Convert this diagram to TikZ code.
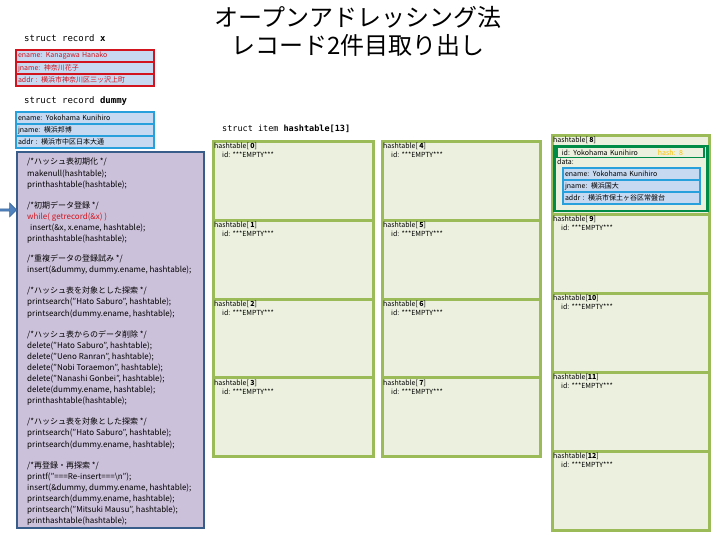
\documentclass[tikz,border=0pt]{standalone}
\usepackage{fontspec}
\setmainfont{Noto Sans CJK JP}
\setmonofont{DejaVu Sans Mono}
\usetikzlibrary{shapes.arrows}
\definecolor{CellGreen}{RGB}{155,187,89}
\definecolor{CellFill}{RGB}{235,241,222}
\definecolor{RowFill}{RGB}{198,217,241}
\definecolor{RecRed}{RGB}{210,20,30}
\definecolor{RecBlue}{RGB}{40,160,220}
\definecolor{CodeFill}{RGB}{204,193,218}
\definecolor{CodeLine}{RGB}{56,93,138}
\definecolor{DataGreen}{RGB}{0,140,70}
\definecolor{HashOrange}{RGB}{255,192,0}
\definecolor{ArrowBlue}{RGB}{79,129,189}

\tikzset{
  cellbox/.style={draw=CellGreen, fill=CellFill, line width=3pt, anchor=north west, inner sep=0pt},
  celltext/.style={anchor=north west, inner sep=0pt, align=left, font=\fontsize{7}{9}\selectfont},
  rowbox/.style={fill=RowFill, line width=2pt, anchor=north west, inner sep=2pt,
    minimum height=12pt, align=left, font=\fontsize{7}{8}\selectfont},
  structlabel/.style={anchor=west, inner sep=0pt, font=\ttfamily\fontsize{9}{10}\selectfont},
}

\begin{document}
\begin{tikzpicture}[x=1pt,y=-1pt]
  \useasboundingbox (0,0) rectangle (720,540);

  % title
  \node[align=center, font=\fontsize{24}{28}\selectfont] (title) at (358,31)
    {オープンアドレッシング法\\レコード2件目取り出し};

  % struct record x
  \node[structlabel] (xlabel) at (24,38) {struct record \textbf{x}};
  \node[rowbox, draw=RecRed, text=RecRed, text width=134pt] (xe) at (15,49) {ename: Kanagawa Hanako};
  \node[rowbox, draw=RecRed, text=RecRed, text width=134pt] (xj) at (15,61) {jname: 神奈川花子};
  \node[rowbox, draw=RecRed, text=RecRed, text width=134pt] (xa) at (15,73) {addr : 横浜市神奈川区三ッ沢上町};

  % struct record dummy
  \node[structlabel] (dlabel) at (24,101) {struct record \textbf{dummy}};
  \node[rowbox, draw=RecBlue, text width=134pt] (de) at (15,111) {ename: Yokohama Kunihiro};
  \node[rowbox, draw=RecBlue, text width=134pt] (dj) at (15,123) {jname: 横浜邦博};
  \node[rowbox, draw=RecBlue, text width=134pt] (da) at (15,135) {addr : 横浜市中区日本大通};

  % main program
  \node[draw=CodeLine, fill=CodeFill, line width=2pt, anchor=north west, inner sep=0pt,
    minimum width=187pt, minimum height=376pt] (codebg) at (16,151) {};
  \node[anchor=north west, inner sep=0pt, align=left, font=\fontsize{8}{11.1}\selectfont] (code) at (27,158) {%
    /*ハッシュ表初期化 */\\
    makenull(hashtable);\\
    printhashtable(hashtable);\\[10pt]
    /*初期データ登録 */\\
    \textcolor{RecRed}{while( getrecord(\&x) )}\\
    \hspace{3pt}insert(\&x, x.ename, hashtable);\\
    printhashtable(hashtable);\\[9pt]
    /*重複データの登録試み */\\
    insert(\&dummy, dummy.ename, hashtable);\\[10pt]
    /*ハッシュ表を対象とした探索 */\\
    printsearch("Hato Saburo", hashtable);\\
    printsearch(dummy.ename, hashtable);\\[10pt]
    /*ハッシュ表からのデータ削除 */\\
    delete("Hato Saburo", hashtable);\\
    delete("Ueno Ranran", hashtable);\\
    delete("Nobi Toraemon", hashtable);\\
    delete("Nanashi Gonbei", hashtable);\\
    delete(dummy.ename, hashtable);\\
    printhashtable(hashtable);\\[10pt]
    /*ハッシュ表を対象とした探索 */\\
    printsearch("Hato Saburo", hashtable);\\
    printsearch(dummy.ename, hashtable);\\[10pt]
    /*再登録・再探索 */\\
    printf("===Re-insert===\textbackslash n");\\
    insert(\&dummy, dummy.ename, hashtable);\\
    printsearch(dummy.ename, hashtable);\\
    printsearch("Mitsuki Mausu", hashtable);\\
    printhashtable(hashtable);};

  % current line marker
  \node[single arrow, fill=ArrowBlue, draw=ArrowBlue!80!black, line width=0.6pt,
    minimum height=17pt, minimum width=14pt, single arrow head extend=1.5pt,
    inner sep=0pt, anchor=tip] (cur) at (17,210) {};

  % hash table
  \node[structlabel, font=\ttfamily\fontsize{8.5}{10}\selectfont] (htlabel) at (222,129)
    {struct item \textbf{hashtable[13]}};
  \foreach \i in {0,...,3} {
    \node[cellbox, minimum width=160pt, minimum height=78.75pt] (h\i) at (212,{140+78.75*\i}) {};
    \node[celltext] (h\i t) at ([shift={(2,3)}]h\i.north west)
      {hashtable[ \textbf{\i}]\\\hspace{8pt}id: ***EMPTY***};
  }
  \foreach \i in {4,...,7} {
    \node[cellbox, minimum width=158pt, minimum height=78.75pt] (h\i) at (381,{140+78.75*(\i-4)}) {};
    \node[celltext] (h\i t) at ([shift={(2,3)}]h\i.north west)
      {hashtable[ \textbf{\i}]\\\hspace{8pt}id: ***EMPTY***};
  }
  \foreach \i in {8,...,12} {
    \node[cellbox, minimum width=157pt, minimum height=79pt] (h\i) at (551,{134+79*(\i-8)}) {};
  }
  \node[celltext] (h8t) at ([shift={(2,3)}]h8.north west) {hashtable[ \textbf{8}]};
  \foreach \i in {9} {
    \node[celltext] (h\i t) at ([shift={(2,3)}]h\i.north west)
      {hashtable[ \textbf{\i}]\\\hspace{8pt}id: ***EMPTY***};
  }
  \foreach \i in {10,11,12} {
    \node[celltext] (h\i t) at ([shift={(2,3)}]h\i.north west)
      {hashtable[\textbf{\i}]\\\hspace{8pt}id: ***EMPTY***};
  }

  % stored record in slot 8
  \node[draw=DataGreen, line width=2.5pt, anchor=north west, inner sep=0pt,
    minimum width=153pt, minimum height=65pt] (slot8) at (553,145) {};
  \node[rowbox, draw=DataGreen, fill=CellFill, line width=1.5pt, inner sep=1pt,
    minimum height=10pt, text width=145pt] (sid) at (556,147)
    {\hspace{4pt}id: Yokohama Kunihiro\hspace{20pt}\textcolor{HashOrange}{hash: 8}};
  \node[celltext] (sdata) at (557,159) {data:};
  \node[rowbox, draw=RecBlue, text width=133pt] (se) at (562,167) {ename: Yokohama Kunihiro};
  \node[rowbox, draw=RecBlue, text width=133pt] (sj) at (562,179) {jname: 横浜国大};
  \node[rowbox, draw=RecBlue, text width=133pt] (sa) at (562,191) {addr : 横浜市保土ヶ谷区常盤台};
\end{tikzpicture}
\end{document}
